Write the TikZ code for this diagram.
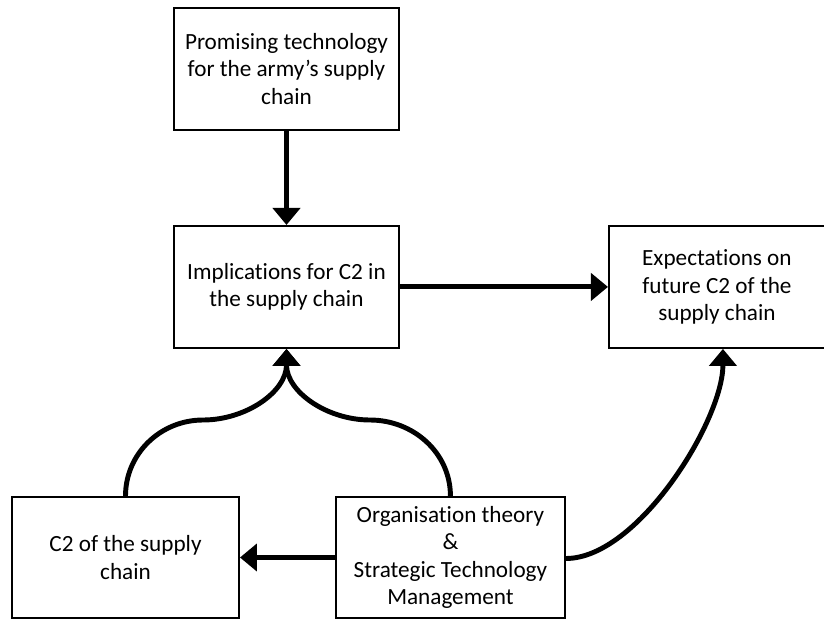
\documentclass[tikz,border=0pt]{standalone}
\usepackage{fontspec}
\setmainfont{Carlito}[Ligatures={TeX,NoCommon}]
\usepackage{tikz}
\usetikzlibrary{positioning,arrows.meta}

\begin{document}
\begin{tikzpicture}[
box/.style={rectangle,draw=black,line width=1.1pt,fill=white,
minimum width=4.5cm,minimum height=2.44cm,align=center,
font=\fontsize{13.2}{15.6}\selectfont},
arrow/.style={-{Triangle[length=3.4mm,width=5.4mm]},line width=2.8pt,draw=black}
]
\useasboundingbox (0,0) rectangle (16.48,12.4);
\node[box] (tech) at (5.73,11.02) {Promising technology\\for the army's supply\\chain};
\node[box,below=1.88cm of tech] (impl) {Implications for C2 in\\the supply chain};
\node[box,right=4.16cm of impl,minimum width=4.32cm] (expect) {Expectations on\\future C2 of the\\supply chain};
\node[box,minimum width=4.54cm,minimum height=2.42cm] (c2) at (2.51,1.25) {C2 of the supply\\chain};
\node[box,right=1.9cm of c2,minimum width=4.58cm,minimum height=2.42cm] (theory) {Organisation theory\\\&\\Strategic Technology\\Management};
% shoulders of the two curved arrows
\coordinate (lbend) at (4.06,4.0);
\coordinate (rbend) at (7.40,4.0);
\draw[arrow] (tech)--(impl); \draw[arrow] (impl)--(expect); \draw[arrow] (theory)--(c2);
\draw[arrow] (c2.north) to[out=90,in=180] (lbend) to[out=0,in=-90] (impl.south);
\draw[arrow] (theory.north) to[out=90,in=0] (rbend) to[out=180,in=-90] (impl.south);
\draw[arrow] ([yshift=-0.02cm]theory.east) to[out=0,in=-90,looseness=0.7] ([xshift=0.12cm]expect.south);
\end{tikzpicture}
\end{document}
